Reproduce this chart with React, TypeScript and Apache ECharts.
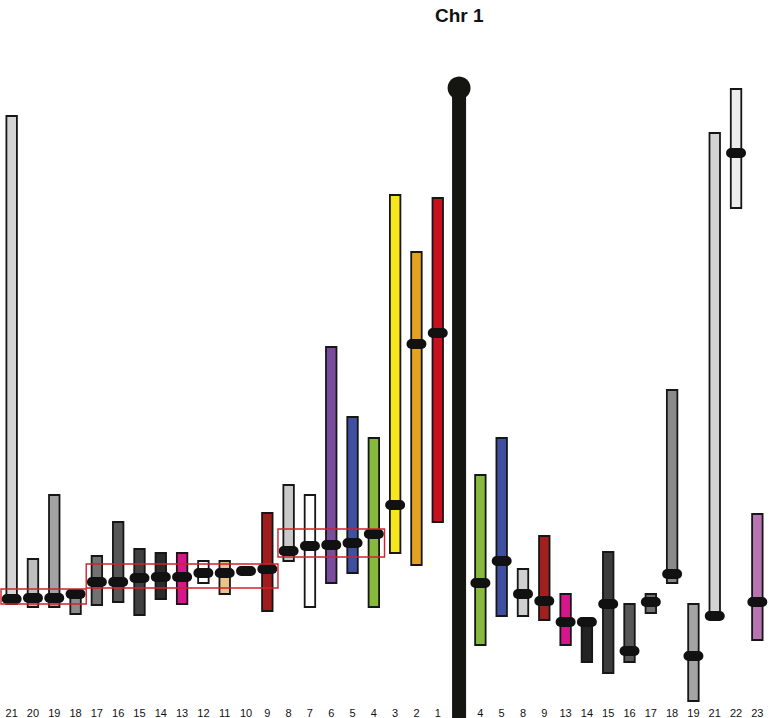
import React, { useEffect, useRef } from "react";
import * as echarts from "echarts";

// Category labels along the bottom ("" = chromosome 1 itself)
const categories = [
  "21", "20", "19", "18", "17", "16", "15", "14", "13", "12", "11", "10", "9",
  "8", "7", "6", "5", "4", "3", "2", "1", "",
  "4", "5", "8", "9", "13", "14", "15", "16", "17", "18", "19", "21", "22", "23",
];

// Segment start (Mb along chr1), end, centromere position
const segStart = [
  11.2, 188.4, 162.8, 201.2, 187.2, 173.6, 184.4, 186.0, 186.0, 189.2, 189.2, 192.8, 170.0,
  158.8, 162.8, 103.6, 131.6, 140.0, 42.8, 65.6, 44.0, null,
  154.8, 140.0, 192.4, 179.2, 202.4, 212.8, 185.6, 206.4, 202.4, 120.8, 206.4, 18.0, 0.4, 170.4,
];
const segEnd = [
  206.4, 207.6, 207.6, 210.4, 206.8, 205.6, 210.8, 204.4, 206.4, 198.0, 202.4, 194.0, 209.2,
  189.2, 207.6, 198.0, 194.0, 207.6, 186.0, 190.8, 173.6, null,
  222.8, 211.2, 211.2, 212.8, 222.8, 229.6, 234.0, 229.6, 210.0, 198.0, 245.2, 212.4, 48.0, 220.8,
];
const centromere = [
  204.4, 204.0, 204.0, 202.4, 197.6, 197.6, 196.0, 195.6, 195.6, 194.0, 194.0, 193.2, 192.4,
  185.2, 183.2, 182.8, 182.0, 178.4, 166.8, 102.4, 98.0, null,
  198.0, 189.2, 202.4, 205.2, 213.6, 213.6, 206.4, 225.2, 205.6, 194.4, 227.2, 211.2, 26.0, 205.6,
];
const segColors = [
  "#d4d4d4", "#bebebe", "#a3a3a3", "#8c8c8c", "#727272", "#575757", "#404040", "#2b2b2b",
  "#d6178b", "#ffffff", "#e9c38a", "#1a1a1a", "#a11d1d",
  "#c9c9c9", "#ffffff", "#7a4c9e", "#3f4fa2", "#86b93e", "#f5e61e", "#e4a223", "#c8101e", "#151512",
  "#86b93e", "#3f4fa2", "#d0d0d0", "#a21f1f", "#d6178b", "#232323", "#3c3c3c", "#575757",
  "#707070", "#8a8a8a", "#a4a4a4", "#d4d4d4", "#ececec", "#b873b1",
];

// Chromosome 1 extent (Mb)
const chromIndex = 21;
const chromStart = 0;
const chromEnd = 252;

// Red boxes: first category, last category, top, bottom (Mb)
const boxFrom = [0, 4, 13];
const boxTo = [3, 12, 17];
const boxTop = [200.4, 190.4, 176.4];
const boxBottom = [206.4, 200.0, 187.6];

export default function App() {
  const ref = useRef<HTMLDivElement>(null);

  useEffect(() => {
    if (!ref.current) return;
    const chart = echarts.init(ref.current, undefined, { renderer: "svg" });

    const segData: any[] = [];
    categories.forEach((c, i) => {
      if (i === chromIndex) return;
      segData.push([i, segStart[i], segEnd[i], centromere[i]]);
    });

    const boxData = boxFrom.map((f, k) => [f, boxTo[k], boxTop[k], boxBottom[k]]);

    chart.setOption({
      animation: false,
      title: {
        text: "Chr 1",
        left: 430,
        top: 1,
        textStyle: {
          fontFamily: "Liberation Sans, Arial, sans-serif",
          fontSize: 19,
          fontWeight: "bold",
          color: "#111",
        },
      },
      grid: { left: 1, right: 4, top: 88, bottom: 0 },
      xAxis: {
        type: "category",
        data: categories,
        axisLine: { show: false },
        axisTick: { show: false },
        splitLine: { show: false },
        axisLabel: {
          inside: true,
          margin: 0,
          interval: 0,
          fontSize: 11,
          color: "#111",
          fontFamily: "Liberation Sans, Arial, sans-serif",
        },
      },
      yAxis: {
        type: "value",
        inverse: true,
        min: 0,
        max: chromEnd,
        show: false,
      },
      series: [
        {
          type: "custom",
          name: "chromosome",
          data: [[chromIndex, chromStart, chromEnd]],
          renderItem: (params: any, api: any) => {
            const top = api.coord([api.value(0), api.value(1)]);
            const bot = api.coord([api.value(0), api.value(2)]);
            const w = 14;
            return {
              type: "group",
              children: [
                {
                  type: "rect",
                  shape: { x: top[0] - w / 2, y: top[1], width: w, height: bot[1] - top[1] },
                  style: { fill: segColors[chromIndex] },
                },
                {
                  type: "circle",
                  shape: { cx: top[0], cy: top[1], r: 11.5 },
                  style: { fill: segColors[chromIndex] },
                },
              ],
            };
          },
          z: 2,
        },
        {
          type: "custom",
          name: "segments",
          data: segData,
          renderItem: (params: any, api: any) => {
            const idx = api.value(0);
            const top = api.coord([idx, api.value(1)]);
            const bot = api.coord([idx, api.value(2)]);
            const cen = api.coord([idx, api.value(3)]);
            const w = 10.5;
            const cw = 20;
            const ch = 10;
            return {
              type: "group",
              children: [
                {
                  type: "rect",
                  shape: { x: top[0] - w / 2, y: top[1], width: w, height: bot[1] - top[1] },
                  style: { fill: segColors[idx], stroke: "#161616", lineWidth: 1.8 },
                },
                {
                  type: "rect",
                  shape: { x: cen[0] - cw / 2, y: cen[1] - ch / 2, width: cw, height: ch, r: ch / 2 },
                  style: { fill: "#111111" },
                },
              ],
            };
          },
          z: 3,
        },
        {
          type: "custom",
          name: "boxes",
          data: boxData,
          renderItem: (params: any, api: any) => {
            const band = api.size([1, 0])[0];
            const a = api.coord([api.value(0), api.value(2)]);
            const b = api.coord([api.value(1), api.value(3)]);
            const x0 = a[0] - band / 2;
            const x1 = b[0] + band / 2;
            return {
              type: "rect",
              shape: { x: x0, y: a[1], width: x1 - x0, height: b[1] - a[1] },
              style: { fill: "none", stroke: "#d0222c", lineWidth: 1.4 },
            };
          },
          z: 4,
        },
      ],
    });

    return () => chart.dispose();
  }, []);

  return (
    <div
      ref={ref}
      style={{ position: "absolute", left: 0, top: 0, width: 772, height: 718, background: "#fff" }}
    />
  );
}
